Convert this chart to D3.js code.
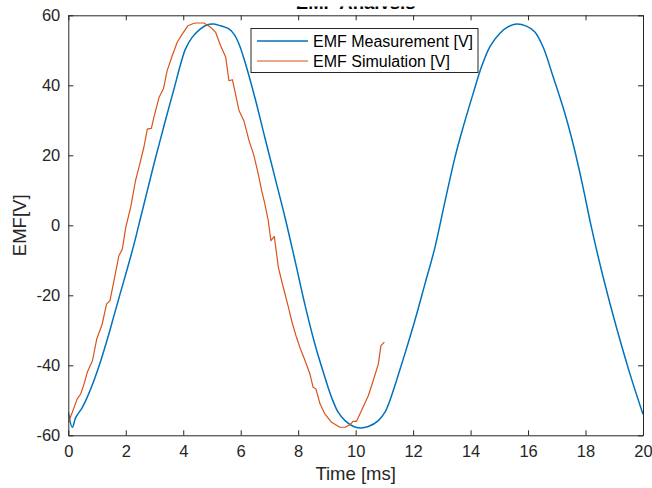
<!DOCTYPE html>
<html>
<head>
<meta charset="utf-8">
<script src="https://cdn.jsdelivr.net/npm/d3@7"></script>
<style>
  html, body { margin: 0; padding: 0; background: #fff; }
  svg { display: block; font-family: "Liberation Sans", Arial, Helvetica, sans-serif; }
</style>
</head>
<body>
<svg id="chart" width="652" height="488"></svg>
<script>
// ---- data ----
const measTime = [0, 0.14, 0.26, 0.49, 0.66, 0.89, 1.13, 1.36, 1.59, 1.82, 2.05, 2.29, 2.52, 2.75, 2.98, 3.21, 3.44, 3.68, 3.91, 4.08, 4.31, 4.6, 4.84, 5.07, 5.3, 5.59, 5.76, 5.94, 6.17, 6.49, 6.84, 7.19, 7.54, 7.89, 8.23, 8.58, 8.93, 9.16, 9.39, 9.63, 9.91, 10.15, 10.44, 10.79, 11.02, 11.19, 11.42, 11.71, 12.06, 12.41, 12.76, 13.1, 13.45, 13.68, 14.09, 14.38, 14.67, 15.02, 15.3, 15.6, 15.94, 16.23, 16.52, 16.87, 17.28, 17.62, 17.91, 18.2, 18.61, 19.07, 19.54, 20];
const measEMF  = [-53.4, -57.7, -54.9, -52, -49.1, -44.4, -38.7, -32.5, -25.8, -19.1, -12.5, -5.3, 2.3, 9.9, 17.5, 24.7, 31.8, 39, 46.1, 50.4, 53.7, 56.1, 57.3, 57.5, 57, 56.1, 54.7, 51.8, 46.1, 36.6, 25.1, 13.7, 2.3, -10.1, -22.5, -33.9, -43.4, -49.1, -53.4, -55.8, -57.4, -57.9, -57.5, -55.8, -53.4, -50.1, -44.4, -36.8, -27.2, -16.8, -6.3, 6.5, 19.2, 26.3, 37.7, 45.3, 51, 54.9, 56.7, 57.5, 56.9, 55.3, 51, 42.5, 32, 21.5, 11, -0.4, -14.7, -29, -42.3, -54];

const simTime = [0, 0.14, 0.31, 0.43, 0.55, 0.66, 0.84, 0.99, 1.18, 1.33, 1.45, 1.59, 1.76, 1.88, 2.0, 2.17, 2.34, 2.46, 2.63, 2.75, 2.89, 2.98, 3.16, 3.31, 3.44, 3.62, 3.79, 3.97, 4.16, 4.31, 4.43, 4.72, 4.95, 5.13, 5.3, 5.48, 5.59, 5.71, 5.82, 5.94, 6.11, 6.29, 6.46, 6.61, 6.73, 6.84, 6.96, 7.05, 7.17, 7.31, 7.48, 7.66, 7.77, 7.94, 8.06, 8.24, 8.41, 8.52, 8.62, 8.76, 8.93, 9.16, 9.45, 9.63, 9.8, 9.91, 10.03, 10.2, 10.44, 10.61, 10.79, 10.88, 11.0];
const simEMF  = [-56.3, -53.4, -49.6, -48.2, -45.3, -42, -38.7, -32.5, -28.2, -22.5, -21.5, -15.8, -8.7, -6.8, -0.6, 5.1, 12.8, 16.6, 22.3, 27.5, 27.7, 30.9, 36.6, 39, 44.2, 48.5, 52.3, 54.7, 57, 57.5, 57.8, 57.8, 56.6, 55.1, 51.3, 48, 41.3, 41.6, 37.5, 32.8, 29.9, 24.2, 19.9, 14.7, 9.9, 6.1, 1.3, -4.4, -3.2, -12, -17.7, -23.4, -27.2, -32, -34.9, -38.7, -42.5, -46.3, -46.8, -51, -53.9, -56.3, -57.7, -57.7, -57, -56, -56, -53, -48.7, -44.4, -39.6, -34.4, -33.4];

const xTicks = [0, 2, 4, 6, 8, 10, 12, 14, 16, 18, 20];
const yTicks = [-60, -40, -20, 0, 20, 40, 60];
const seriesNames = ["EMF Measurement [V]", "EMF Simulation [V]"];
const seriesColors = ["#0072BD", "#D95319"];
const titleText = "EMF Analysis";
const xLabel = "Time [ms]";
const yLabel = "EMF[V]";

// ---- layout ----
const svg = d3.select("#chart");
const L = 68.3, R = 643, T = 15.3, B = 435.3;
const axisColor = "#262626";

const x = d3.scaleLinear().domain([0, 20]).range([L, R]);
const y = d3.scaleLinear().domain([-60, 60]).range([B, T]);

// title: in the reference only its lowest pixels show above the axes box
svg.append("clipPath").attr("id", "titleClip")
  .append("rect").attr("x", 0).attr("y", 6.5).attr("width", 652).attr("height", 2.5);
svg.append("text")
  .attr("clip-path", "url(#titleClip)")
  .attr("x", (L + R) / 2).attr("y", 8.5)
  .attr("text-anchor", "middle")
  .attr("font-size", 18.5).attr("font-weight", "bold")
  .attr("fill", "#000")
  .text(titleText);

// lines
svg.append("clipPath").attr("id", "plotClip")
  .append("rect").attr("x", L).attr("y", T).attr("width", R - L).attr("height", B - T);

const measData = measTime.map((t, i) => [t, measEMF[i]]);
const simData = simTime.map((t, i) => [t, simEMF[i]]);

const g = svg.append("g").attr("clip-path", "url(#plotClip)");
g.append("path").datum(measData)
  .attr("fill", "none").attr("stroke", seriesColors[0]).attr("stroke-width", 1.5)
  .attr("stroke-linejoin", "round")
  .attr("d", d3.line().x(d => x(d[0])).y(d => y(d[1])).curve(d3.curveCatmullRom.alpha(0.5)));
g.append("path").datum(simData)
  .attr("fill", "none").attr("stroke", seriesColors[1]).attr("stroke-width", 1.2)
  .attr("stroke-linejoin", "round")
  .attr("d", d3.line().x(d => x(d[0])).y(d => y(d[1])));

// axes
const tickLen = 5;
const fmt = d => String(d);
const axBottom = svg.append("g").attr("transform", `translate(0,${B})`)
  .call(d3.axisBottom(x).tickValues(xTicks).tickFormat(fmt).tickSizeInner(-tickLen).tickSizeOuter(0).tickPadding(10));
const axTop = svg.append("g").attr("transform", `translate(0,${T})`)
  .call(d3.axisTop(x).tickValues(xTicks).tickFormat("").tickSizeInner(-tickLen).tickSizeOuter(0));
const axLeft = svg.append("g").attr("transform", `translate(${L},0)`)
  .call(d3.axisLeft(y).tickValues(yTicks).tickFormat(fmt).tickSizeInner(-tickLen).tickSizeOuter(0).tickPadding(8));
const axRight = svg.append("g").attr("transform", `translate(${R},0)`)
  .call(d3.axisRight(y).tickValues(yTicks).tickFormat("").tickSizeInner(-tickLen).tickSizeOuter(0));

[axBottom, axTop, axLeft, axRight].forEach(a => {
  a.selectAll("path.domain").attr("stroke", axisColor).attr("stroke-width", 1);
  a.selectAll(".tick line").attr("stroke", axisColor).attr("stroke-width", 1);
  a.selectAll(".tick text").attr("fill", axisColor)
    .attr("font-size", 16.5).attr("font-family", "Liberation Sans, Arial, sans-serif");
});

// axis labels
svg.append("text")
  .attr("x", (L + R) / 2).attr("y", 480)
  .attr("text-anchor", "middle").attr("font-size", 18.5).attr("fill", axisColor)
  .text(xLabel);
svg.append("text")
  .attr("transform", `translate(26,${(T + B) / 2}) rotate(-90)`)
  .attr("text-anchor", "middle").attr("font-size", 18.5).attr("fill", axisColor)
  .text(yLabel);

// legend
const lg = svg.append("g");
lg.append("rect").attr("x", 251).attr("y", 28.5).attr("width", 227).attr("height", 44)
  .attr("fill", "#fff").attr("stroke", axisColor).attr("stroke-width", 1);
seriesNames.forEach((name, i) => {
  const ly = 41 + i * 20;
  lg.append("line").attr("x1", 257).attr("x2", 308).attr("y1", ly).attr("y2", ly)
    .attr("stroke", seriesColors[i]).attr("stroke-width", i === 0 ? 1.5 : 1.2);
  lg.append("text").attr("x", 313).attr("y", ly + 5.8)
    .attr("font-size", 16).attr("fill", "#000").text(name);
});
</script>
</body>
</html>
